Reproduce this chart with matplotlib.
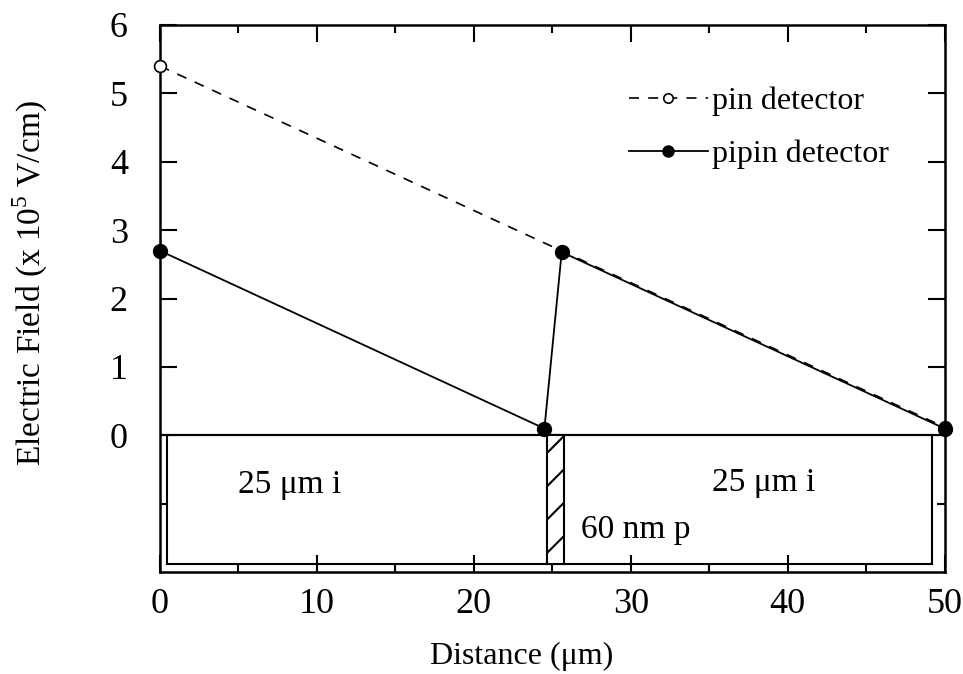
import matplotlib
matplotlib.use("Agg")
import matplotlib.pyplot as plt
from matplotlib.patches import Rectangle
from matplotlib.ticker import MultipleLocator, FixedLocator

plt.rcParams['font.family'] = ['Liberation Serif', 'DejaVu Serif']
plt.rcParams['mathtext.fontset'] = 'custom'
plt.rcParams['mathtext.rm'] = 'Liberation Serif'
plt.rcParams['hatch.linewidth'] = 1.5

# Electric field profiles (x 10^5 V/cm) versus depth (um)
pin_x = [0, 50]
pin_field = [5.4, 0.12]
pipin_x = [0, 24.5, 25.6, 50]
pipin_field = [2.7, 0.1, 2.68, 0.1]

# Device layers drawn under the field axis
i_layer_x = [0.45, 49.2]
p_layer_x = [24.65, 25.75]
layer_depth = -1.88
layer_labels = ["25 \u03bcm i", "25 \u03bcm i", "60 nm p"]

fig = plt.figure(figsize=(9.63, 6.74), dpi=100)
ax = fig.add_axes([0.166, 0.151, 0.815, 0.812])

ax.plot(pin_x, pin_field, linestyle=(0, (6, 5.5)), color='black', lw=1.2,
        marker='o', markersize=8.5, markerfacecolor='white',
        markeredgecolor='black', markeredgewidth=1.2, label='pin detector',
        zorder=4, clip_on=False)
ax.plot(pipin_x, pipin_field, linestyle='-', color='black', lw=1.3,
        marker='o', markersize=10, markerfacecolor='black',
        markeredgecolor='black', label='pipin detector', zorder=5,
        clip_on=False)

# zero line and layer boxes
ax.axhline(0, color='black', lw=1.5, zorder=3)
ax.add_patch(Rectangle((i_layer_x[0], layer_depth), i_layer_x[1] - i_layer_x[0],
                       -layer_depth, fill=False, lw=1.5, edgecolor='black', zorder=2))
ax.add_patch(Rectangle((p_layer_x[0], layer_depth), p_layer_x[1] - p_layer_x[0],
                       -layer_depth, facecolor='white', hatch='/', lw=1.5,
                       edgecolor='black', zorder=3))

ax.text(5.0, -0.72, layer_labels[0], fontsize=24, va='center', ha='left')
ax.text(35.2, -0.69, layer_labels[1], fontsize=24, va='center', ha='left')
ax.text(26.8, -1.38, layer_labels[2], fontsize=24, va='center', ha='left')

ax.set_xlim(0, 50)
ax.set_ylim(-2, 6)
ax.xaxis.set_major_locator(MultipleLocator(10))
ax.xaxis.set_minor_locator(MultipleLocator(5))
ax.yaxis.set_major_locator(FixedLocator([0, 1, 2, 3, 4, 5, 6]))
ax.yaxis.set_minor_locator(FixedLocator([-1]))

ax.tick_params(which='both', direction='in', top=True, right=True,
               width=1.5, labelsize=26, colors='black')
ax.tick_params(which='major', length=12)
ax.tick_params(axis='x', which='major', pad=11)
ax.tick_params(axis='y', which='major', pad=23)
ax.tick_params(which='minor', length=6)
for s in ax.spines.values():
    s.set_linewidth(1.8)

ax.set_xlabel('Distance (\u03bcm)', fontsize=23)
ax.set_ylabel('Electric Field (x 10$^5$ V/cm)', fontsize=24)
ax.xaxis.set_label_coords(0.461, -0.128)
ax.yaxis.set_label_coords(-0.14, 0.528)

leg = ax.legend(loc='upper right', bbox_to_anchor=(0.965, 0.94), frameon=False,
                fontsize=23, handlelength=2.5, handletextpad=0.1,
                labelspacing=0.75, markerscale=0.8)

fig.savefig('out.png', dpi=100)
